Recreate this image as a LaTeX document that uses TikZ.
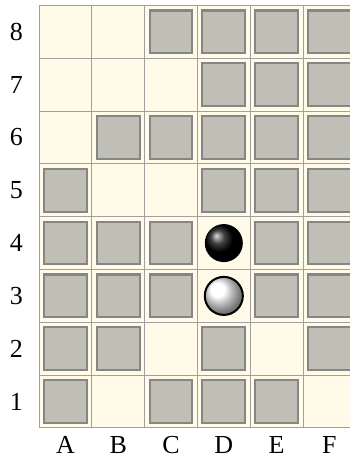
\documentclass[tikz,border=0pt]{standalone}
\usepackage{fontspec}
\setmainfont{Liberation Serif}
\usepackage{tikz}
\usetikzlibrary{positioning, calc, shadings}
\definecolor{boardbg}{RGB}{255,251,232}
\definecolor{gridgray}{RGB}{160,160,160}
\definecolor{wallfill}{RGB}{191,191,181}
\definecolor{walldraw}{RGB}{134,134,134}
\tikzset{
  gridline/.style={draw=gridgray, line width=0.55pt},
  wall/.style={fill=wallfill, draw=walldraw, line width=1.1pt},
  coordlabel/.style={font=\fontsize{14}{16}\selectfont, inner sep=0pt},
  blackstone/.style={circle, minimum size=0.72cm, inner sep=0pt, ball color=black},
  whitestone/.style={circle, minimum size=0.72cm, inner sep=0pt, ball color=white,
    draw=black, line width=1.1pt}
}

\begin{document}
\begin{tikzpicture}
  % Bounding box (right column is cut off)
  \useasboundingbox (-0.739,-0.665) rectangle (5.871,8.104);

  % Board
  \fill[boardbg] (0,0) rectangle (6,8);
  \foreach \x in {0,...,6} \draw[gridline] (\x,0) -- (\x,8);
  \foreach \y in {0,...,8} \draw[gridline] (0,\y) -- (6,\y);

  % Walls (column 0=A, row 1..8)
  \foreach \c/\r in {2/8,3/8,4/8,5/8,
                     3/7,4/7,5/7,
                     1/6,2/6,3/6,4/6,5/6,
                     0/5,3/5,4/5,5/5,
                     0/4,1/4,2/4,4/4,5/4,
                     0/3,1/3,2/3,4/3,5/3,
                     0/2,1/2,3/2,5/2,
                     0/1,2/1,3/1,4/1}
    \draw[wall] (\c+0.095,\r-0.905) rectangle (\c+0.905,\r-0.095);

  % Stones
  \node[blackstone] (black) at (3.5,3.5) {};
  \node[whitestone] (white) at (3.5,2.5) {};

  % Row labels
  \foreach \r in {1,...,8}
    \node[coordlabel] (row\r) at (-0.43,\r-0.5) {\r};

  % Column labels
  \foreach \l [count=\i from 0] in {A,B,C,D,E,F}
    \node[coordlabel] (col\l) at (\i+0.5,-0.32) {\l};
\end{tikzpicture}
\end{document}
